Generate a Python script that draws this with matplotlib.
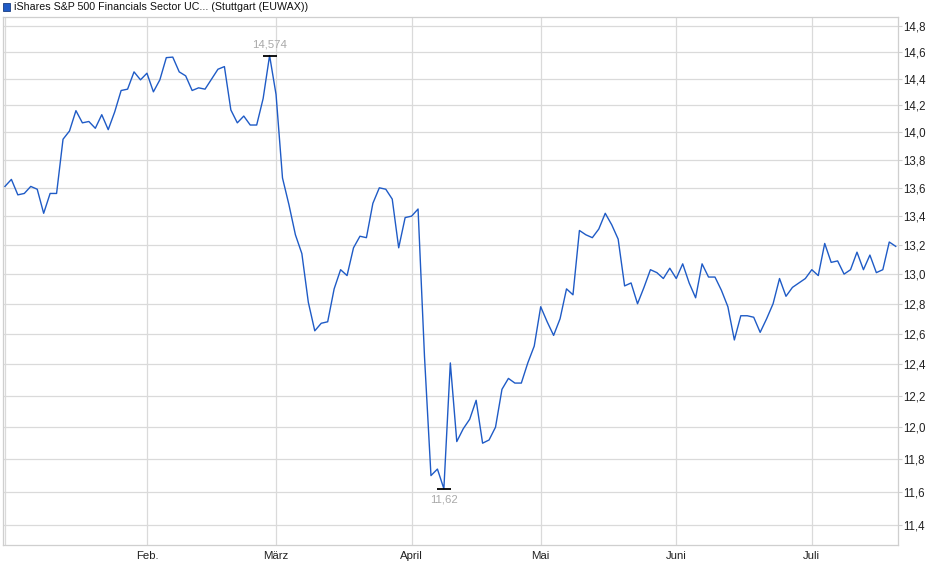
import pandas as pd
import matplotlib
matplotlib.use("Agg")
import matplotlib.pyplot as plt
from matplotlib.patches import Rectangle
from matplotlib.ticker import FixedLocator, NullLocator

plt.rcParams["font.family"] = ["Liberation Sans", "DejaVu Sans"]

title = "iShares S&P 500 Financials Sector UC... (Stuttgart (EUWAX))"

# trading days Stuttgart, 2 Jan - 18 Jul
start_date = "2025-01-02"
end_date = "2025-07-18"
holidays = ["2025-04-18", "2025-04-21", "2025-05-01"]

prices = [
    13.61, 13.66, 13.55, 13.56, 13.61, 13.59, 13.42, 13.56, 13.56, 13.95,
    14.01, 14.16, 14.07, 14.08, 14.03, 14.13, 14.02, 14.15, 14.31, 14.32,
    14.45, 14.39, 14.44, 14.30, 14.39, 14.558, 14.562, 14.45, 14.42, 14.31,
    14.33, 14.32, 14.395, 14.47, 14.49, 14.165, 14.07, 14.12, 14.054, 14.054,
    14.25, 14.574, 14.28, 13.67, 13.48, 13.27, 13.14, 12.81, 12.62, 12.67,
    12.68, 12.90, 13.03, 12.99, 13.18, 13.26, 13.25, 13.49, 13.60, 13.59,
    13.52, 13.18, 13.39, 13.40, 13.45, 12.45, 11.70, 11.74, 11.62, 12.41,
    11.91, 11.99, 12.05, 12.17, 11.90, 11.92, 12.00, 12.24, 12.31, 12.28,
    12.28, 12.41, 12.52, 12.78, 12.68, 12.59, 12.70, 12.90, 12.86, 13.30,
    13.27, 13.25, 13.31, 13.42, 13.34, 13.24, 12.92, 12.94, 12.80, 12.91,
    13.03, 13.01, 12.97, 13.04, 12.97, 13.07, 12.94, 12.84, 13.07, 12.98,
    12.98, 12.89, 12.78, 12.56, 12.72, 12.72, 12.71, 12.61, 12.70, 12.80,
    12.97, 12.85, 12.91, 12.94, 12.97, 13.03, 12.99, 13.21, 13.08, 13.09,
    13.00, 13.03, 13.15, 13.03, 13.13, 13.01, 13.03, 13.22, 13.19,
]

month_labels = ["Feb.", "März", "April", "Mai", "Juni", "Juli"]
y_ticks = [11.4, 11.6, 11.8, 12.0, 12.2, 12.4, 12.6, 12.8, 13.0, 13.2,
           13.4, 13.6, 13.8, 14.0, 14.2, 14.4, 14.6, 14.8]

dates = pd.bdate_range(start_date, end_date, freq="C", holidays=holidays)
df = pd.DataFrame({"date": dates[:len(prices)], "price": prices})
df["pos"] = range(len(df))
month_starts = df.groupby(df["date"].dt.month)["pos"].min().iloc[1:].tolist()

line_color = "#1f5bc6"
grid_color = "#dadada"
label_color = "#a9a9a9"


def de(v):
    return f"{v:g}".replace(".", ",")


fig = plt.figure(figsize=(9.4, 5.79), dpi=100)
ax = fig.add_axes([3 / 940, 1 - 545 / 579, 895.3 / 940, 528.3 / 579])

ax.plot(df["pos"], df["price"], color=line_color, lw=1.0, zorder=3)

ax.set_yscale("log")
ax.set_ylim(11.283, 14.873)
ax.set_xlim(-0.3, len(df) - 0.6)

ax.yaxis.set_major_locator(FixedLocator(y_ticks))
ax.yaxis.set_minor_locator(NullLocator())
ax.set_yticklabels([f"{t:.1f}".replace(".", ",") for t in y_ticks])
ax.yaxis.tick_right()

ax.set_xticks(month_starts)
ax.set_xticklabels(month_labels)
ax.xaxis.set_minor_locator(NullLocator())

ax.grid(True, color=grid_color, lw=0.9, zorder=0)
ax.axvline(0, color=grid_color, lw=0.9, zorder=0)
for s in ax.spines.values():
    s.set_color("#cfcfcf")
    s.set_linewidth(0.9)

ax.tick_params(axis="y", length=3, pad=0.5, color="#cfcfcf", labelsize=8.3,
               labelcolor="#222222")
ax.tick_params(axis="x", length=0, pad=4, labelsize=8.2, labelcolor="#222222")

# high / low markers
i_max = df["price"].idxmax()
i_min = df["price"].idxmin()
for i, dy, va in [(i_max, 4, "bottom"), (i_min, -4, "top")]:
    x, y = df.loc[i, "pos"], df.loc[i, "price"]
    ax.plot([x], [y], marker="_", markersize=10, mew=1.3, color="black", zorder=4)
    ax.annotate(de(y), (x, y), xytext=(0, dy), textcoords="offset points",
                ha="center", va=va, fontsize=8.2, color=label_color, zorder=5)

# legend / title line
fig.patches.append(Rectangle((2.5 / 940, 1 - 10.5 / 579), 7 / 940, 7 / 579,
                             transform=fig.transFigure, facecolor=line_color,
                             edgecolor="#1a3d80", lw=0.6))
fig.text(14 / 940, 1 - 7 / 579, title, fontsize=7.7, va="center", ha="left",
         color="#111111")

fig.savefig("out.png", dpi=100)
plt.close("all")
